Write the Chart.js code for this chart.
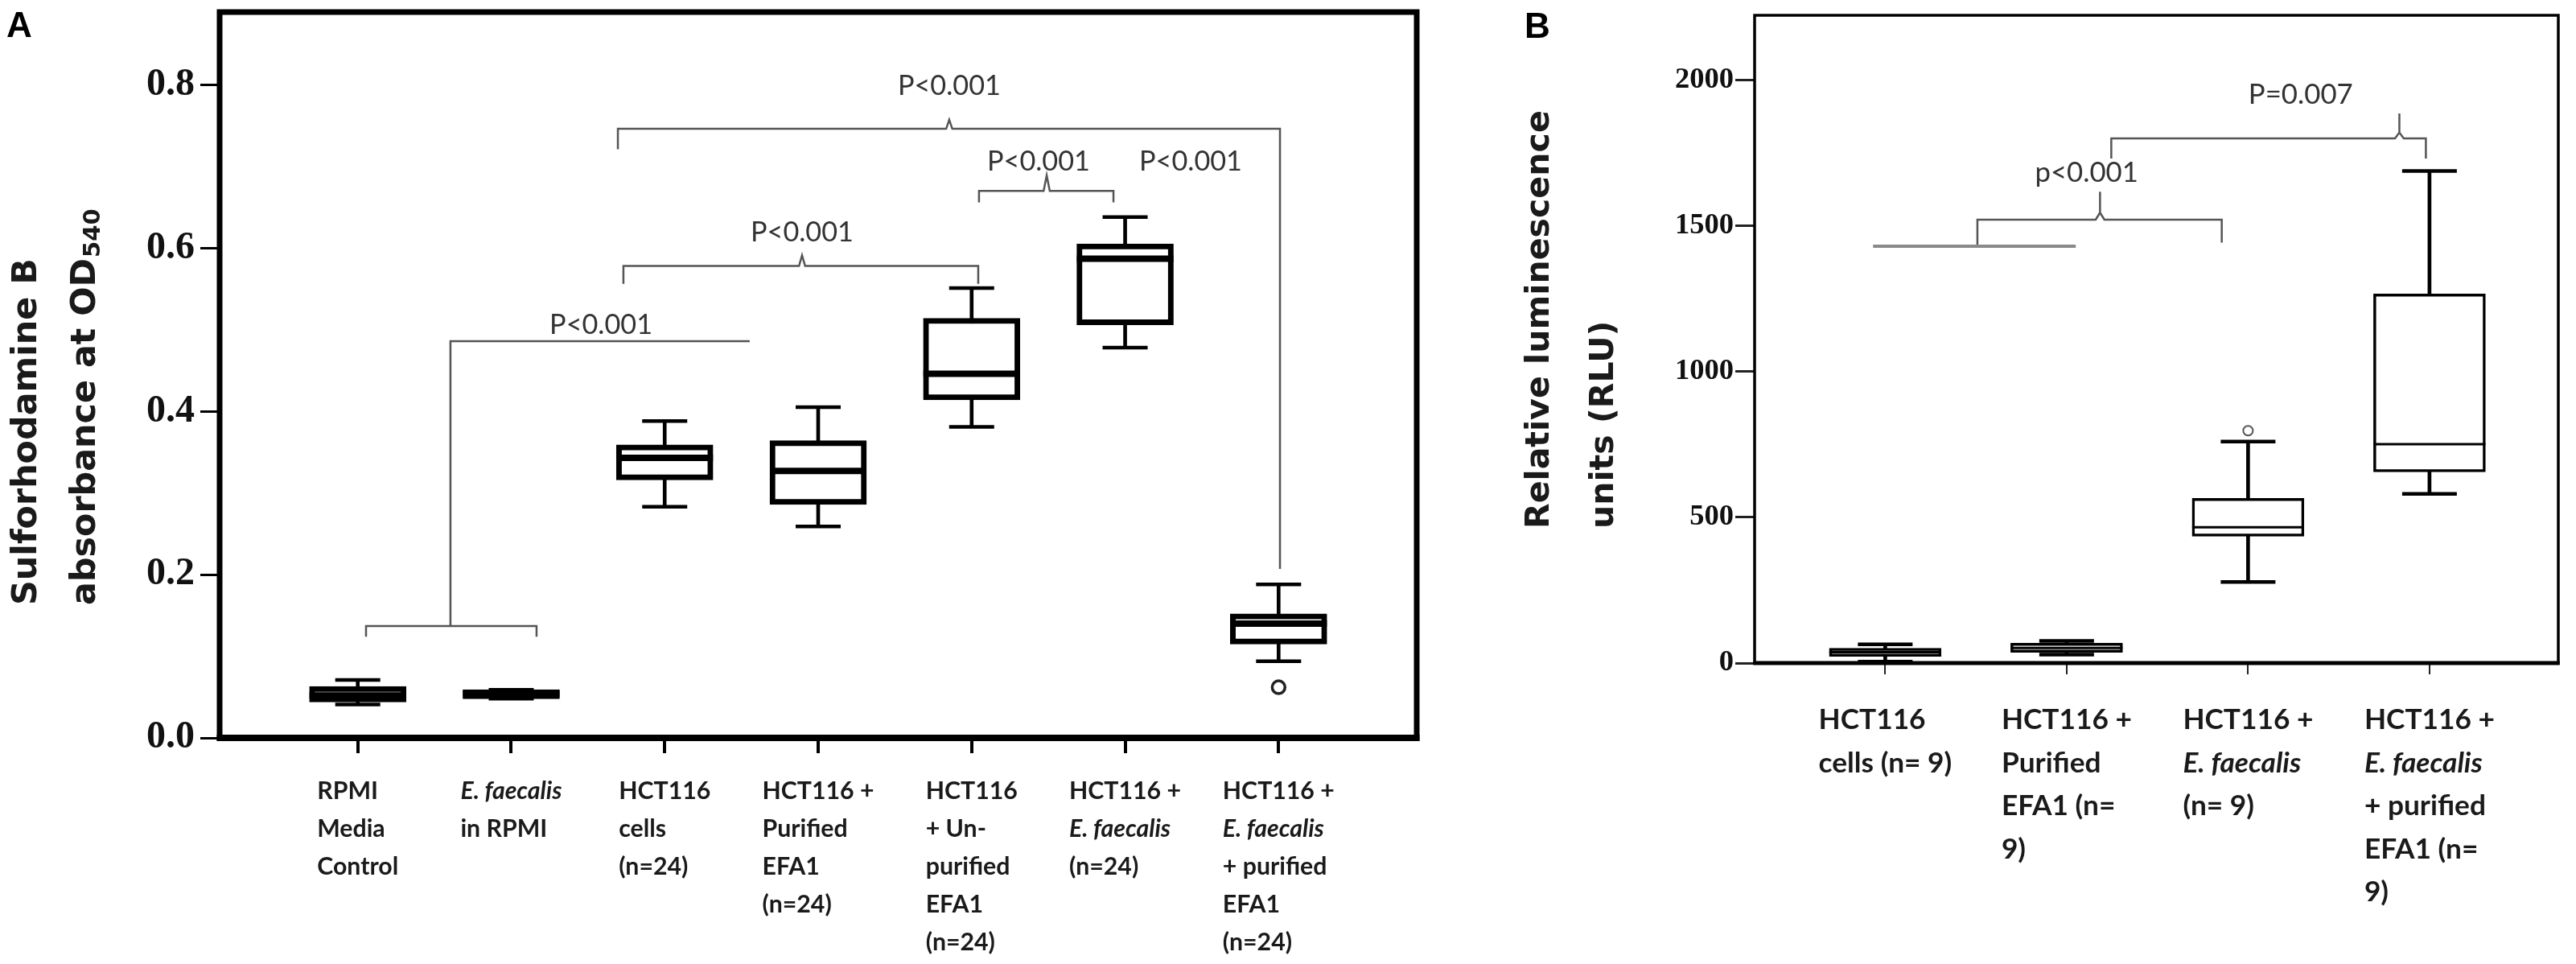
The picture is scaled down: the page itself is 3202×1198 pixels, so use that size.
<!DOCTYPE html>
<html><head><meta charset="utf-8">
<script src="https://cdn.jsdelivr.net/npm/chart.js@4.4.1/dist/chart.umd.min.js"></script>
<style>
html,body{margin:0;padding:0;background:#fff;width:3202px;height:1198px;overflow:hidden}
canvas{position:absolute;top:0}
#cA{left:0}
#cB{left:1860px}
</style></head><body>
<canvas id="cA" width="1790" height="1198"></canvas>
<canvas id="cB" width="1342" height="1198"></canvas>
<script>
// ================= DATA: Panel A =================
const catsA = ["RPMI Media Control", "E. faecalis in RPMI", "HCT116 cells", "HCT116 + Purified EFA1",
               "HCT116 + Un-purified EFA1", "HCT116 + E. faecalis", "HCT116 + E. faecalis + purified EFA1"];
const xLabelsA = [
  ["RPMI", "Media", "Control"],
  ["*E. faecalis*", "in RPMI"],
  ["HCT116", "cells", "(n=24)"],
  ["HCT116 +", "Purified", "EFA1", "(n=24)"],
  ["HCT116", "+ Un-", "purified", "EFA1", "(n=24)"],
  ["HCT116 +", "*E. faecalis*", "(n=24)"],
  ["HCT116 +", "*E. faecalis*", "+ purified", "EFA1", "(n=24)"]
];
const minA = [0.041, 0.048, 0.283, 0.259, 0.381, 0.478, 0.094];
const q1A  = [0.044, 0.048, 0.316, 0.286, 0.414, 0.506, 0.115];
const medA = [0.052, 0.054, 0.343, 0.327, 0.446, 0.587, 0.140];
const q3A  = [0.063, 0.059, 0.359, 0.364, 0.514, 0.605, 0.152];
const maxA = [0.071, 0.059, 0.388, 0.405, 0.551, 0.638, 0.188];
const outlierCatA = [6];
const outlierValA = [0.062];
const yTicksA = [0, 0.2, 0.4, 0.6, 0.8];
const yTitleA = ["Sulforhodamine B", "absorbance at OD_540"];
// significance brackets (category index, value)
const bracketsA = [
  [[0.054,0.124],[0.054,0.137],[1.165,0.137],[1.165,0.124]],
  [[0.604,0.137],[0.604,0.486],[2.554,0.486]],
  [[1.731,0.556],[1.731,0.578],[2.875,0.578],[2.895,0.591],[2.915,0.578],[4.043,0.578],[4.043,0.556]],
  [[1.695,0.721],[1.695,0.746],[3.834,0.746],[3.854,0.757],[3.874,0.746],[6.009,0.746],[6.009,0.207]],
  [[4.048,0.656],[4.048,0.670],[4.469,0.670],[4.489,0.689],[4.509,0.670],[4.924,0.670],[4.924,0.656]]
];
const pTextA = ["P<0.001", "P<0.001", "P<0.001", "P<0.001", "P<0.001"];
const pXA = [1.585, 2.895, 3.854, 4.436, 5.427];
const pYA = [0.506, 0.619, 0.798, 0.706, 0.706];

// ================= DATA: Panel B =================
const catsB = ["HCT116 cells", "HCT116 + Purified EFA1", "HCT116 + E. faecalis", "HCT116 + E. faecalis + purified EFA1"];
const xLabelsB = [
  ["HCT116", "cells (n= 9)"],
  ["HCT116 +", "Purified", "EFA1 (n=", "9)"],
  ["HCT116 +", "*E. faecalis*", "(n= 9)"],
  ["HCT116 +", "*E. faecalis*", "+ purified", "EFA1 (n=", "9)"]
];
const minB = [5, 29, 278, 580];
const q1B  = [23, 37, 435, 656];
const medB = [37, 52, 466, 751];
const q3B  = [51, 68, 565, 1266];
const maxB = [64, 76, 760, 1688];
const outlierCatB = [2];
const outlierValB = [797];
const yTicksB = [0, 500, 1000, 1500, 2000];
const yTitleB = ["Relative luminescence", "units (RLU)"];
const bracketsB = [
  [[-0.067,1430],[1.05,1430]],
  [[0.508,1430],[0.508,1521],[1.160,1521],[1.184,1545],[1.184,1617],[1.184,1545],[1.208,1521],[1.855,1521],[1.855,1442]],
  [[1.246,1731],[1.246,1800],[2.810,1800],[2.834,1820],[2.834,1885],[2.834,1820],[2.858,1800],[2.980,1800],[2.980,1731]]
];
const bracketColorB = ["#8a8a8a", "#555", "#555"];
const bracketWidthB = [4, 2.5, 2.5];
const pTextB = ["p<0.001", "P=0.007"];
const pXB = [1.11, 2.29];
const pYB = [1681, 1948];

// ================= helpers =================
const mctx = document.createElement('canvas').getContext('2d');
function fnt(style, weight, size, family) { return `${style} ${weight} ${size}px "${family}"`; }
function fit(text, style, weight, family, target) {
  mctx.font = fnt(style, weight, 100, family);
  return 100 * target / mctx.measureText(text).width;
}
const LBL = "Lato";
const szLabA = fit("HCT116 +", "normal", "bold", LBL, 139);
const szLabB = fit("HCT116 +", "normal", "bold", LBL, 162);
const szPA = fit("P<0.001", "normal", "normal", LBL, 128);
const szPB = fit("P=0.007", "normal", "normal", LBL, 130);
const szTickA = fit("0.8", "normal", "bold", "Liberation Serif", 60);
const szTickB = fit("2000", "normal", "bold", "Liberation Serif", 73);
const szTitA = fit("Sulforhodamine B", "normal", "bold", "DejaVu Sans", 431);
const szTitB = fit("Relative luminescence", "normal", "bold", "DejaVu Sans", 520);

function boxDatasets(mn, q1, md, q3, mx, oc, ov, st) {
  const pt = (arr) => arr.map((v, i) => ({x: i, y: v}));
  return [
    {type: 'bar', data: mn.map((v, i) => ({x: i, y: [v, mx[i]]})), backgroundColor: st.color,
     barThickness: st.whiskerW, grouped: false, order: 5},
    {type: 'bar', data: q1.map((v, i) => ({x: i, y: [v, q3[i]]})), backgroundColor: '#fff',
     borderColor: st.color, borderWidth: st.boxLW, borderSkipped: false, barThickness: st.boxW, grouped: false, order: 4},
    {type: 'scatter', data: pt(mn).concat(pt(mx)), pointStyle: 'line', pointRadius: st.capR,
     pointBorderWidth: st.capLW, pointBorderColor: st.color, pointBackgroundColor: st.color, order: 3},
    {type: 'scatter', data: pt(md), pointStyle: 'line', pointRadius: st.boxW / 2,
     pointBorderWidth: st.medLW, pointBorderColor: st.color, pointBackgroundColor: st.color, order: 2},
    {type: 'scatter', data: oc.map((c, k) => ({x: c, y: ov[k]})), pointStyle: 'circle', pointRadius: st.outR,
     pointBorderWidth: st.outLW, pointBorderColor: st.outColor, pointBackgroundColor: '#fff', order: 1}
  ];
}
function bracketDatasets(brs, colors, widths) {
  return brs.map((b, k) => ({
    type: 'line', data: b.map(([x, y]) => ({x, y})), borderColor: colors[k], borderWidth: widths[k],
    pointRadius: 0, fill: false, tension: 0, order: 0, borderCapStyle: 'butt', borderJoinStyle: 'miter'
  }));
}

function panelPlugin(p) {
  return {
    id: 'panel' + p.id,
    afterDraw(chart) {
      const {ctx, chartArea: ca, scales: {x, y}} = chart;
      ctx.save();
      // frame
      ctx.strokeStyle = '#000';
      ctx.lineWidth = p.frameLW;
      ctx.strokeRect(ca.left, ca.top, ca.right - ca.left, ca.bottom - ca.top);
      ctx.lineWidth = p.axisLW;
      ctx.beginPath(); ctx.moveTo(ca.left - p.frameLW / 2, ca.bottom); ctx.lineTo(ca.right + p.frameLW / 2, ca.bottom); ctx.stroke();
      // p-values
      ctx.fillStyle = p.pColor;
      ctx.font = fnt('normal', 'normal', p.pSize, LBL);
      ctx.textAlign = 'center'; ctx.textBaseline = 'middle';
      p.pText.forEach((t, k) => ctx.fillText(t, x.getPixelForValue(p.pX[k]), y.getPixelForValue(p.pY[k])));
      // category labels (left aligned blocks centred under each tick)
      ctx.fillStyle = '#1a1a1a';
      ctx.textAlign = 'left';
      p.labels.forEach((lines, i) => {
        const parsed = lines.map(s => ({t: s.replace(/^\*|\*$/g, ''), it: /^\*.*\*$/.test(s)}));
        let w = 0;
        parsed.forEach(q => { ctx.font = fnt(q.it ? 'italic' : 'normal', 'bold', p.labSize, LBL); w = Math.max(w, ctx.measureText(q.t).width); });
        const left = x.getPixelForValue(i) - w / 2;
        parsed.forEach((q, j) => {
          ctx.font = fnt(q.it ? 'italic' : 'normal', 'bold', p.labSize, LBL);
          ctx.fillText(q.t, left, p.labTop + j * p.labStep);
        });
      });
      // y-axis title (rotated, start aligned)
      ctx.fillStyle = '#1a1a1a';
      p.title.forEach((line, j) => {
        const [main, sub] = line.split('_');
        ctx.save();
        ctx.translate(p.titleX[j], p.titleStart);
        ctx.rotate(-Math.PI / 2);
        ctx.textAlign = 'left'; ctx.textBaseline = 'middle';
        ctx.font = fnt('normal', 'bold', p.titleSize, 'DejaVu Sans');
        ctx.fillText(main, 0, 0);
        if (sub) {
          const w = ctx.measureText(main).width;
          ctx.font = fnt('normal', 'bold', p.titleSize * 0.68, 'DejaVu Sans');
          ctx.fillText(sub, w + 1, p.titleSize * 0.22);
        }
        ctx.restore();
      });
      // panel letter
      ctx.fillStyle = '#000';
      ctx.textAlign = 'left'; ctx.textBaseline = 'alphabetic';
      ctx.font = fnt('normal', 'bold', p.letterSize, 'Liberation Sans');
      ctx.fillText(p.letter, p.letterX, p.letterY);
      ctx.restore();
    }
  };
}

function makeChart(canvasId, cfg) {
  return new Chart(document.getElementById(canvasId), {
    type: 'bar',
    data: {datasets: cfg.datasets},
    options: {
      responsive: false, animation: false, devicePixelRatio: 1, events: [],
      layout: {padding: cfg.padding, autoPadding: false},
      plugins: {legend: {display: false}, tooltip: {enabled: false}, title: {display: false}},
      scales: {
        x: {
          type: 'linear', min: cfg.xMin, max: cfg.xMax, offset: false,
          afterBuildTicks: s => { s.ticks = cfg.cats.map((c, i) => ({value: i})); },
          afterFit: s => { s.height = cfg.xHeight; s.paddingLeft = 0; s.paddingRight = 0; },
          ticks: {display: false},
          grid: {offset: false, drawOnChartArea: false, drawTicks: true, tickLength: cfg.xTickLen,
                 color: cfg.tickColor, lineWidth: cfg.xTickLW},
          border: {display: false}
        },
        y: {
          type: 'linear', min: 0, max: cfg.yMax,
          afterBuildTicks: s => { s.ticks = cfg.yTicks.map(v => ({value: v})); },
          afterFit: s => { s.width = cfg.yWidth; s.paddingTop = 0; s.paddingBottom = 0; },
          ticks: {color: '#111', padding: cfg.yTickPad, font: {family: 'Liberation Serif', weight: 'bold', size: cfg.yTickSize},
                  callback: cfg.yFmt},
          grid: {drawOnChartArea: false, drawTicks: true, tickLength: cfg.yTickLen, color: cfg.tickColor, lineWidth: cfg.yTickLW},
          border: {display: false}
        }
      }
    },
    plugins: [cfg.plugin]
  });
}

// ================= Panel A =================
makeChart('cA', {
  cats: catsA,
  datasets: boxDatasets(minA, q1A, medA, q3A, maxA, outlierCatA, outlierValA,
    {color: '#000', whiskerW: 4, boxW: 120, boxLW: 7, capR: 28, capLW: 4.5, medLW: 8, outR: 8, outLW: 3.5, outColor: '#222'})
    .concat(bracketDatasets(bracketsA, bracketsA.map(() => '#555'), bracketsA.map(() => 2.5))),
  padding: {left: 0, top: 15, right: 29, bottom: 0},
  xMin: -0.9, xMax: 6.9, xHeight: 1198 - 917, xTickLen: 19, xTickLW: 4,
  yMax: 0.889, yTicks: yTicksA, yWidth: 273, yTickPad: 7, yTickSize: szTickA, yTickLen: 24, yTickLW: 3,
  tickColor: '#000', yFmt: v => v.toFixed(1),
  plugin: panelPlugin({
    id: 'A', frameLW: 7, axisLW: 8, pColor: '#333', pSize: szPA, pText: pTextA, pX: pXA, pY: pYA,
    labels: xLabelsA, labSize: szLabA, labTop: 983, labStep: 47,
    title: yTitleA, titleSize: szTitA, titleX: [34, 107], titleStart: 752,
    letter: 'A', letterSize: 44, letterX: 8, letterY: 46
  })
});

// ================= Panel B =================
makeChart('cB', {
  cats: catsB,
  datasets: boxDatasets(minB, q1B, medB, q3B, maxB, outlierCatB, outlierValB,
    {color: '#000', whiskerW: 4, boxW: 139, boxLW: 3.5, capR: 34, capLW: 4.5, medLW: 3, outR: 6, outLW: 2, outColor: '#555'})
    .concat(bracketDatasets(bracketsB, bracketColorB, bracketWidthB)),
  padding: {left: 0, top: 19, right: 22, bottom: 0},
  xMin: -0.72, xMax: 3.71, xHeight: 1198 - 824, xTickLen: 14, xTickLW: 2,
  yMax: 2222, yTicks: yTicksB, yWidth: 321, yTickPad: 2, yTickSize: szTickB, yTickLen: 24, yTickLW: 3,
  tickColor: '#222', yFmt: v => String(v),
  plugin: panelPlugin({
    id: 'B', frameLW: 3.5, axisLW: 5, pColor: '#333', pSize: szPB, pText: pTextB, pX: pXB, pY: pYB,
    labels: xLabelsB, labSize: szLabB, labTop: 895, labStep: 53.5,
    title: yTitleB, titleSize: szTitB, titleX: [54, 134], titleStart: 657,
    letter: 'B', letterSize: 44, letterX: 35, letterY: 47
  })
});
</script>
</body></html>
